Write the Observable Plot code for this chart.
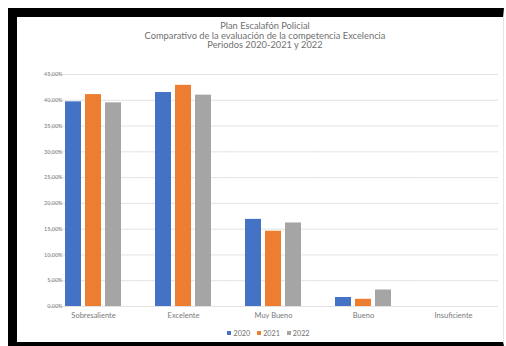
<!DOCTYPE html>
<html>
<head>
<meta charset="utf-8">
<script src="https://cdn.jsdelivr.net/npm/d3@7"></script>
<script src="https://cdn.jsdelivr.net/npm/@observablehq/plot@0.6"></script>
<style>
  html, body { margin: 0; padding: 0; background: #fff; width: 506px; height: 346px; overflow: hidden; }
  #frame { position: absolute; left: 8px; top: 8px; width: 486px; height: 325px;
           border-left: 9px solid #000; border-top: 9px solid #000; border-bottom: 4px solid #000;
           border-right: 1px solid #e6e6e6; background: #fff; font-family: Lato, "Open Sans", sans-serif; }
  #title { position: absolute; left: 0; top: 4px; width: 496px; text-align: center; color: #707070;
           font-size: 9.3px; line-height: 9.5px; }
  #chart { position: absolute; left: 0; top: 47px; }
  #legend { position: absolute; left: 0; top: 312px; width: 496px; text-align: center; color: #707070; font-size: 7.2px; }
  #legend span.sw { display: inline-block; width: 4px; height: 4px; margin: 0 2px 0 7px; vertical-align: 1px; }
</style>
</head>
<body>
<div id="frame">
  <div id="title">Plan Escalafón Policial<br>Comparativo de la evaluación de la competencia Excelencia<br>Periodos 2020-2021 y 2022</div>
  <div id="chart"></div>
  <div id="legend"></div>
</div>
<script>
const categories = ["Sobresaliente", "Excelente", "Muy Bueno", "Bueno", "Insuficiente"];
const years = ["2020", "2021", "2022"];
const values2020 = [39.7, 41.5, 16.9, 1.75, 0];
const values2021 = [41.1, 42.9, 14.6, 1.4, 0];
const values2022 = [39.5, 41.0, 16.2, 3.2, 0];
const yTicks = [0, 5, 10, 15, 20, 25, 30, 35, 40, 45];
const colors = ["#4472C4", "#ED7D31", "#A5A5A5"];

const series = [values2020, values2021, values2022];
const data = [];
categories.forEach((c, i) => years.forEach((y, j) => data.push({category: c, year: y, value: series[j][i]})));

const fmt = d => d.toFixed(2).replace(".", ",") + "%";

const chart = Plot.plot({
  width: 486,
  height: 262,
  marginLeft: 30,
  marginRight: 5,
  marginTop: 10,
  marginBottom: 20,
  style: {fontFamily: "Lato, 'Open Sans', sans-serif", color: "#7a7a7a", background: "transparent"},
  fx: {domain: categories, paddingInner: 0.38, paddingOuter: 0.19, label: null},
  x: {domain: years, paddingInner: 0.2, paddingOuter: 0, axis: null},
  y: {domain: [0, 45], ticks: yTicks, label: null},
  color: {domain: years, range: colors},
  marks: [
    Plot.ruleY(yTicks, {stroke: "#dcdcdc", strokeWidth: 0.8, insetLeft: -17.2, insetRight: -17.2}),
    Plot.barY(data, {fx: "category", x: "year", y: "value", fill: "year"}),
    Plot.axisY({ticks: yTicks, tickFormat: fmt, tickSize: 0, tickPadding: 3, fontSize: 5.5, label: null, anchor: "left"}),
    Plot.axisFx({anchor: "bottom", tickSize: 0, tickPadding: 6, fontSize: 7.5, label: null})
  ]
});
document.getElementById("chart").appendChild(chart);

const legend = document.getElementById("legend");
years.forEach((y, j) => {
  const sw = document.createElement("span");
  sw.className = "sw";
  sw.style.background = colors[j];
  legend.appendChild(sw);
  legend.appendChild(document.createTextNode(y));
});
</script>
</body>
</html>
